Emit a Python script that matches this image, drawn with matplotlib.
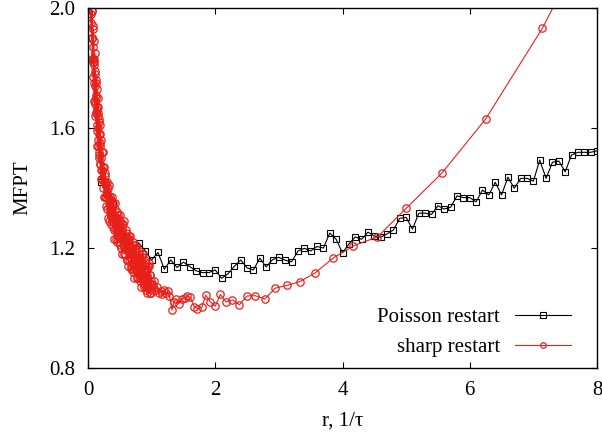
import matplotlib
matplotlib.use("Agg")
import matplotlib.pyplot as plt

# ── data ──────────────────────────────────────────────────────────────────────
poisson_r = [0.2, 0.3, 0.4, 0.5, 0.6, 0.7, 0.8, 0.9, 1.0, 1.1, 1.2, 1.3, 1.4,
             1.5, 1.6, 1.7, 1.8, 1.9, 2.0, 2.1, 2.2, 2.3, 2.4, 2.5, 2.6, 2.7,
             2.8, 2.9, 3.0, 3.1, 3.2, 3.3, 3.4, 3.5, 3.6, 3.7, 3.8, 3.9, 4.0,
             4.1, 4.2, 4.3, 4.4, 4.5, 4.6, 4.7, 4.8, 4.9, 5.0, 5.1, 5.2, 5.3,
             5.4, 5.5, 5.6, 5.7, 5.8, 5.9, 6.0, 6.1, 6.2, 6.3, 6.4, 6.5, 6.6,
             6.7, 6.8, 6.9, 7.0, 7.1, 7.2, 7.3, 7.4, 7.5, 7.6, 7.7, 7.8, 7.9,
             8.0]
poisson_t = [1.42, 1.38, 1.347, 1.266, 1.236, 1.188, 1.216, 1.191, 1.16,
             1.185, 1.129, 1.16, 1.135, 1.153, 1.138, 1.124, 1.118, 1.118,
             1.127, 1.099, 1.114, 1.139, 1.16, 1.134, 1.127, 1.166, 1.137,
             1.161, 1.169, 1.159, 1.154, 1.19, 1.199, 1.19, 1.205, 1.2, 1.25,
             1.229, 1.184, 1.213, 1.237, 1.229, 1.253, 1.24, 1.236, 1.247,
             1.26, 1.299, 1.302, 1.263, 1.316, 1.316, 1.312, 1.341, 1.33,
             1.336, 1.374, 1.368, 1.368, 1.354, 1.393, 1.377, 1.419, 1.377,
             1.436, 1.399, 1.432, 1.432, 1.423, 1.493, 1.432, 1.486, 1.49,
             1.454, 1.51, 1.519, 1.519, 1.519, 1.524]

# sharp restart: dense noisy part at small r ...
sharp_r_dense = [
    0.0400, 0.0425, 0.0450, 0.0475, 0.0500, 0.0525, 0.0550, 0.0575, 0.0600,
    0.0625, 0.0650, 0.0675, 0.0700, 0.0725, 0.0750, 0.0775, 0.0800, 0.0825,
    0.0850, 0.0875, 0.0900, 0.0925, 0.0950, 0.0975, 0.1000, 0.1025, 0.1050,
    0.1075, 0.1100, 0.1125, 0.1150, 0.1175, 0.1200, 0.1225, 0.1250, 0.1275,
    0.1300, 0.1325, 0.1350, 0.1375, 0.1400, 0.1425, 0.1450, 0.1475, 0.1500,
    0.1525, 0.1550, 0.1575, 0.1600, 0.1625, 0.1650, 0.1675, 0.1700, 0.1725,
    0.1750, 0.1775, 0.1800, 0.1825, 0.1850, 0.1875, 0.1900, 0.1925, 0.1950,
    0.1975,
    0.200, 0.205, 0.210, 0.215, 0.220, 0.225, 0.230, 0.235, 0.240, 0.245,
    0.250, 0.255, 0.260, 0.265, 0.270, 0.275, 0.280, 0.285, 0.290, 0.295,
    0.300, 0.305, 0.310, 0.315, 0.320, 0.325, 0.330, 0.335, 0.340, 0.345,
    0.350, 0.355, 0.360, 0.365, 0.370, 0.375, 0.380, 0.385, 0.390, 0.395,
    0.400, 0.405, 0.410, 0.415, 0.420, 0.425, 0.430, 0.435, 0.440, 0.445,
    0.450, 0.455, 0.460, 0.465, 0.470, 0.475, 0.480, 0.485, 0.490, 0.495,
    0.50, 0.51, 0.52, 0.53, 0.54, 0.55, 0.56, 0.57, 0.58, 0.59,
    0.60, 0.61, 0.62, 0.63, 0.64, 0.65, 0.66, 0.67, 0.68, 0.69,
    0.70, 0.71, 0.72, 0.73, 0.74, 0.75, 0.76, 0.77, 0.78, 0.79,
    0.80, 0.81, 0.82, 0.83, 0.84, 0.85, 0.86, 0.87, 0.88, 0.89,
    0.90, 0.91, 0.92, 0.93, 0.94, 0.95, 0.96, 0.97, 0.98, 0.99,
    0.505, 0.515, 0.525, 0.535, 0.545, 0.555, 0.565, 0.575, 0.585, 0.595,
    0.605, 0.615, 0.625, 0.635, 0.645, 0.655, 0.665, 0.675, 0.685, 0.695,
    0.705, 0.715, 0.725, 0.735, 0.745, 0.755, 0.765, 0.775, 0.785, 0.795,
    0.805, 0.815, 0.825, 0.835, 0.845, 0.855, 0.865, 0.875, 0.885, 0.895,
    0.905, 0.915, 0.925, 0.935, 0.945, 0.955, 0.965, 0.975, 0.985, 0.995]
sharp_t_dense = [
    2.18, 2.03, 2.08, 1.95, 2.07, 1.98, 2.08, 1.90, 1.99,
    1.90, 1.99, 1.83, 1.90, 1.94, 1.83, 1.93, 1.82, 1.87,
    1.77, 1.83, 1.89, 1.75, 1.81, 1.69, 1.82, 1.74, 1.85,
    1.68, 1.78, 1.69, 1.79, 1.64, 1.71, 1.75, 1.65, 1.76,
    1.65, 1.70, 1.61, 1.67, 1.73, 1.59, 1.66, 1.54, 1.67,
    1.60, 1.70, 1.54, 1.64, 1.56, 1.65, 1.50, 1.58, 1.62,
    1.51, 1.63, 1.52, 1.58, 1.48, 1.55, 1.61, 1.48, 1.54,
    1.43,
    1.56, 1.46, 1.50, 1.43, 1.52, 1.46, 1.52, 1.40, 1.47, 1.42,
    1.47, 1.37, 1.42, 1.44, 1.37, 1.45, 1.37, 1.41, 1.34, 1.39,
    1.42, 1.33, 1.37, 1.30, 1.40, 1.34, 1.41, 1.29, 1.36, 1.32,
    1.37, 1.28, 1.33, 1.36, 1.29, 1.37, 1.30, 1.33, 1.27, 1.31,
    1.35, 1.26, 1.31, 1.23, 1.33, 1.28, 1.35, 1.23, 1.30, 1.26,
    1.32, 1.22, 1.27, 1.30, 1.24, 1.31, 1.24, 1.28, 1.22, 1.27,
    1.31, 1.21, 1.26, 1.18, 1.28, 1.23, 1.29, 1.18, 1.24, 1.20,
    1.25, 1.16, 1.20, 1.23, 1.16, 1.24, 1.17, 1.20, 1.14, 1.18,
    1.22, 1.13, 1.17, 1.10, 1.20, 1.15, 1.21, 1.10, 1.17, 1.12,
    1.18, 1.09, 1.13, 1.16, 1.10, 1.18, 1.10, 1.14, 1.08, 1.12,
    1.16, 1.07, 1.11, 1.05, 1.14, 1.09, 1.15, 1.05, 1.11, 1.06,
    1.29, 1.20, 1.25, 1.27, 1.21, 1.28, 1.21, 1.24, 1.18, 1.22,
    1.26, 1.16, 1.21, 1.14, 1.23, 1.18, 1.24, 1.13, 1.20, 1.15,
    1.21, 1.12, 1.16, 1.19, 1.13, 1.20, 1.13, 1.17, 1.10, 1.15,
    1.19, 1.10, 1.14, 1.07, 1.17, 1.11, 1.18, 1.07, 1.13, 1.09,
    1.15, 1.06, 1.10, 1.13, 1.07, 1.14, 1.07, 1.11, 1.05, 1.09]

# ... and the sparse tail, one point per restart period
sharp_r_tail = [
    1.00, 1.02, 1.04, 1.06, 1.09, 1.11, 1.14, 1.16, 1.19, 1.22,
    1.25, 1.28, 1.32, 1.35, 1.39, 1.43, 1.47, 1.52, 1.56, 1.61, 1.67,
    1.72, 1.79, 1.85, 1.92, 2.00, 2.08, 2.17, 2.27, 2.38, 2.50, 2.63,
    2.78, 2.94, 3.125, 3.33, 3.57, 3.85, 4.17, 4.55, 5.00, 5.56, 6.25,
    7.14, 8.33]
sharp_t_tail = [
    1.08, 1.075, 1.09, 1.06, 1.07, 1.05, 1.055, 1.045, 1.06, 1.05,
    1.055, 1.04, 0.993, 1.02, 1.03, 1.015, 1.03, 1.032, 1.04, 1.035, 1.004,
    0.998, 1.003, 1.043, 1.021, 1.006, 1.045, 1.02, 1.027, 1.011, 1.04, 1.041,
    1.03, 1.066, 1.075, 1.088, 1.117, 1.166, 1.207, 1.237, 1.332, 1.449, 1.63,
    1.932, 2.42]

x_ticks = [0, 2, 4, 6, 8]
y_ticks = [0.8, 1.2, 1.6, 2.0]

red = "#e8201a"

# one curve ordered by r
sharp = sorted(zip(sharp_r_dense + sharp_r_tail, sharp_t_dense + sharp_t_tail))
sharp_r = [p[0] for p in sharp]
sharp_t = [p[1] for p in sharp]

plt.rcParams["font.family"] = ["Liberation Serif", "DejaVu Serif"]
plt.rcParams["font.size"] = 15

fig = plt.figure(figsize=(6.02, 4.36), dpi=100)
ax = fig.add_axes([88 / 602, 1 - 368 / 436, 509 / 602, 360 / 436])

ax.plot(poisson_r, poisson_t, color="black", lw=0.8, marker="s", ms=5,
        mfc="none", mec="black", mew=0.8, label="Poisson restart")
ax.plot(sharp_r, sharp_t, color=red, lw=0.8, marker="o", ms=5.3,
        mfc="none", mec=red, mew=0.9, label="sharp restart")

ax.set_xlim(0, 8)
ax.set_ylim(0.8, 2.0)
ax.set_xticks(x_ticks)
ax.set_yticks(y_ticks)
ax.set_xticklabels([str(v) for v in x_ticks])
ax.set_yticklabels([f"{v:.1f}" for v in y_ticks])
ax.tick_params(direction="in", length=4.5, width=0.8, top=True, right=True,
               pad=9)
for s in ax.spines.values():
    s.set_linewidth(1.0)

ax.set_xlabel("r, 1/\u03c4", labelpad=9)
ax.set_ylabel("MFPT", labelpad=12)

ax.legend(loc="lower right", bbox_to_anchor=(0.990, -0.028), frameon=False,
          markerfirst=False, handlelength=2.7, handletextpad=0.7,
          labelspacing=0.5, markerscale=0.75, borderaxespad=0.6)

fig.savefig("out.png", dpi=100)
